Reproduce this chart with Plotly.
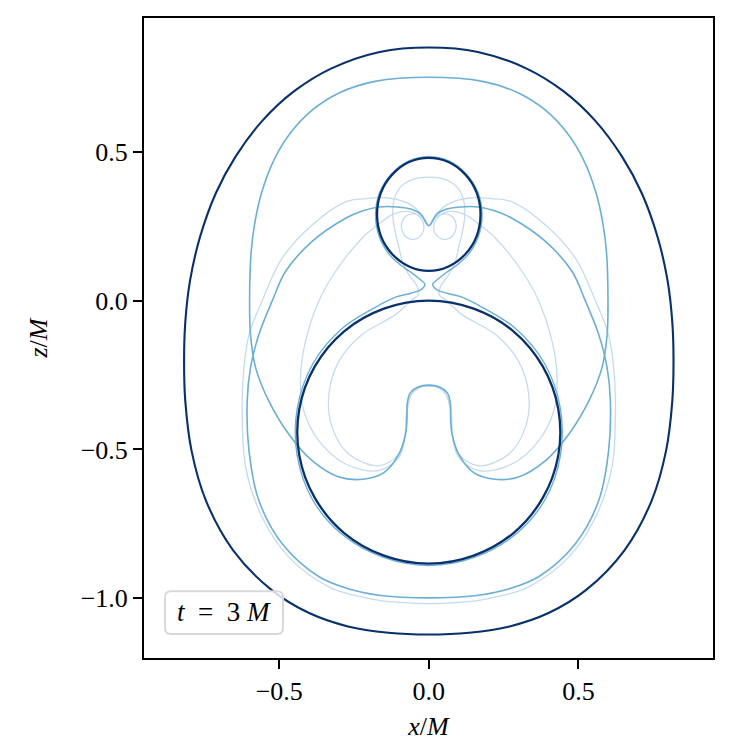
import plotly.graph_objects as go

# right halves (x >= 0) of each contour, from the top of the symmetry axis down to the bottom
OUTER_X = [0.0, 0.164, 0.327, 0.45, 0.556, 0.646, 0.712, 0.765, 0.798, 0.814, 0.818, 0.814, 0.793, 0.745, 0.654,
           0.525, 0.4, 0.27, 0.135, 0.0]
OUTER_Z = [0.851, 0.836, 0.78, 0.704, 0.605, 0.484, 0.361, 0.213, 0.068, -0.073, -0.2, -0.337, -0.505, -0.672, -0.839,
           -0.973, -1.05, -1.095, -1.116, -1.122]

SMALL_X = [0.0, 0.066, 0.122, 0.16, 0.173, 0.16, 0.122, 0.066, 0.0]
SMALL_Z = [0.48, 0.466, 0.424, 0.363, 0.29, 0.217, 0.156, 0.115, 0.1]

BIG_X = [0.0, 0.15, 0.283, 0.381, 0.433, 0.433, 0.381, 0.283, 0.15, 0.0]
BIG_Z = [0.0, -0.027, -0.103, -0.221, -0.365, -0.519, -0.663, -0.781, -0.857, -0.884]

M1_X = [0.0, 0.18, 0.3, 0.39, 0.462, 0.516, 0.558, 0.582, 0.594, 0.599, 0.596, 0.579, 0.535, 0.468, 0.39, 0.3, 0.22,
        0.15, 0.1, 0.078, 0.073, 0.072, 0.062, 0.036, 0.0]
M1_Z = [0.751, 0.737, 0.698, 0.64, 0.564, 0.476, 0.366, 0.259, 0.162, 0.0, -0.114, -0.225, -0.337, -0.449, -0.538, -0.593,
        -0.6, -0.578, -0.516, -0.449, -0.4, -0.345, -0.31, -0.29, -0.284]

M2_X = [0.0, 0.027, 0.06, 0.105, 0.167, 0.22, 0.278, 0.39, 0.479, 0.523, 0.568, 0.596, 0.607, 0.601, 0.568, 0.49,
        0.367, 0.27, 0.167, 0.085, 0.0]
M2_Z = [0.252, 0.291, 0.308, 0.315, 0.315, 0.302, 0.277, 0.199, 0.098, 0.0, -0.114, -0.225, -0.337, -0.505, -0.672,
        -0.817, -0.928, -0.968, -0.99, -0.997, -0.999]

LA_X = [0.0, 0.025, 0.06, 0.134, 0.21, 0.278, 0.39, 0.49, 0.557, 0.601, 0.618, 0.624, 0.612, 0.557, 0.468, 0.334,
        0.25, 0.167, 0.085, 0.0]
LA_Z = [0.252, 0.29, 0.322, 0.345, 0.343, 0.332, 0.254, 0.143, 0.0, -0.114, -0.225, -0.37, -0.56, -0.728, -0.862,
        -0.962, -0.99, -1.007, -1.015, -1.018]

LB_X = [0.0, 0.015, 0.04, 0.07, 0.089, 0.089, 0.07, 0.045, 0.022, 0.017, 0.035, 0.07, 0.12, 0.17, 0.223, 0.312, 0.367,
        0.412, 0.429, 0.418, 0.367, 0.278, 0.167, 0.1, 0.08, 0.074, 0.055, 0.03, 0.0]
LB_Z = [0.252, 0.275, 0.29, 0.288, 0.265, 0.235, 0.21, 0.207, 0.225, 0.255, 0.285, 0.3, 0.29, 0.255, 0.21, 0.098, 0.0,
        -0.136, -0.259, -0.37, -0.471, -0.549, -0.571, -0.527, -0.46, -0.37, -0.31, -0.29, -0.287]

LC_X = [0.0, 0.06, 0.1, 0.118, 0.12, 0.112, 0.1, 0.088, 0.065, 0.04, 0.035, 0.06, 0.111, 0.223, 0.3, 0.334, 0.323,
        0.267, 0.167, 0.1, 0.078, 0.072, 0.058, 0.03, 0.0]
LC_Z = [0.415, 0.405, 0.375, 0.33, 0.28, 0.23, 0.18, 0.13, 0.085, 0.05, 0.02, 0.0, -0.047, -0.114, -0.203, -0.315, -0.426,
        -0.516, -0.555, -0.516, -0.45, -0.37, -0.315, -0.292, -0.287]

NECK_X = [0.0, 0.068, 0.125, 0.164, 0.178, 0.165, 0.13, 0.093, 0.062, 0.03, 0.013, 0.025, 0.06, 0.111, 0.16, 0.288,
          0.388, 0.44, 0.44, 0.388, 0.288, 0.152, 0.0]
NECK_Z = [0.484, 0.469, 0.426, 0.364, 0.29, 0.214, 0.153, 0.119, 0.097, 0.072, 0.055, 0.038, 0.025, 0.012, -0.012,
          -0.092, -0.213, -0.364, -0.52, -0.67, -0.787, -0.863, -0.89]

DARK = '#08306b'
MEDIUM = '#6baed6'
LIGHT = '#c6dbef'
FONT = 'Liberation Serif'


def mirrored(xs, zs):
    # close the contour by reflecting the right half about x = 0
    x = list(xs) + [-v for v in reversed(xs[:-1])]
    z = list(zs) + list(reversed(zs[:-1]))
    return x, z


curves = [
    (LC_X, LC_Z, LIGHT, 1.3),
    (LB_X, LB_Z, LIGHT, 1.3),
    (LA_X, LA_Z, LIGHT, 1.3),
    (NECK_X, NECK_Z, MEDIUM, 1.4),
    (M2_X, M2_Z, MEDIUM, 1.6),
    (M1_X, M1_Z, MEDIUM, 1.6),
    (BIG_X, BIG_Z, DARK, 2.3),
    (SMALL_X, SMALL_Z, DARK, 2.3),
    (OUTER_X, OUTER_Z, DARK, 2.1),
]

fig = go.Figure()
for xs, zs, color, width in curves:
    x, z = mirrored(xs, zs)
    fig.add_trace(go.Scatter(x=x, y=z, mode='lines', line=dict(color=color, width=width, shape='spline', smoothing=1.0),
                             showlegend=False, hoverinfo='skip'))

# rounded box behind the time label (paper coordinates)
x0, x1, y0, y1, rx, ry = 0.0369, 0.2443, 0.0374, 0.1044, 0.0105, 0.0093
box = (f'M {x0 + rx},{y0} L {x1 - rx},{y0} Q {x1},{y0} {x1},{y0 + ry} L {x1},{y1 - ry} Q {x1},{y1} {x1 - rx},{y1} '
       f'L {x0 + rx},{y1} Q {x0},{y1} {x0},{y1 - ry} L {x0},{y0 + ry} Q {x0},{y0} {x0 + rx},{y0} Z')
fig.add_shape(type='path', path=box, xref='paper', yref='paper', line=dict(color='#d9d9d9', width=2),
              fillcolor='rgba(255,255,255,0.8)', layer='above')
fig.add_annotation(x=0.1406, y=0.0717, xref='paper', yref='paper', xanchor='center', yanchor='middle',
                   text='<i>t</i>\u2002=\u20023 <i>M</i>', showarrow=False,
                   font=dict(family=FONT, size=27, color='black'))

axis_common = dict(showgrid=False, zeroline=False, showline=True, linecolor='black', linewidth=2, mirror=True,
                   ticks='outside', ticklen=9, tickwidth=2, tickcolor='black',
                   tickfont=dict(family=FONT, size=26, color='black'))

# the page body adds an 8px offset, so the margins are shifted to keep the frame where it belongs
fig.update_layout(
    width=748, height=748,
    margin=dict(l=136, r=43, t=8, b=98),
    plot_bgcolor='white', paper_bgcolor='white',
    xaxis=dict(range=[-0.952, 0.950], tickvals=[-0.5, 0.0, 0.5], ticktext=['−0.5', '0.0', '0.5'],
               title=dict(text='<i>x</i>/<i>M</i>', font=dict(family=FONT, size=26, color='black'), standoff=12),
               **axis_common),
    yaxis=dict(range=[-1.201, 0.950], tickvals=[-1.0, -0.5, 0.0, 0.5], ticktext=['−1.0', '−0.5', '0.0', '0.5'],
               title=dict(text='<i>z</i>/<i>M</i>', font=dict(family=FONT, size=26, color='black'), standoff=26),
               **axis_common),
)

fig.write_html("out.html")
